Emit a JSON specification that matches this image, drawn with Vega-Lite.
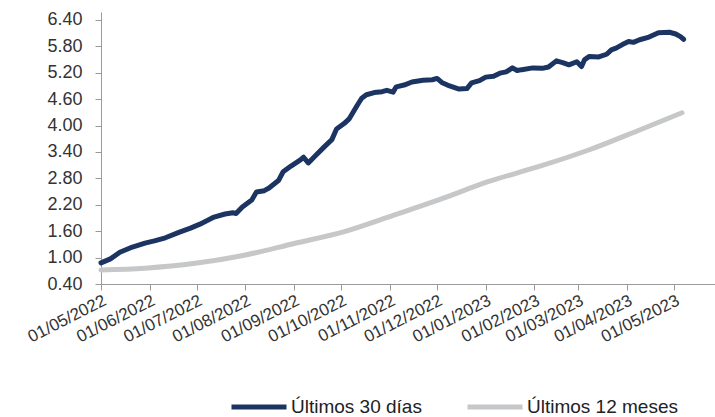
{
  "$schema": "https://vega.github.io/schema/vega-lite/v6.json",
  "width": 614,
  "height": 272,
  "autosize": "none",
  "padding": {"left": 101, "top": 12, "right": 0, "bottom": 133},
  "background": "white",
  "config": {
    "view": {"stroke": null},
    "font": "Liberation Sans",
    "axis": {"grid": false, "domainColor": "#9a9a9a", "tickColor": "#9a9a9a", "labelColor": "#333333", "labelFont": "Liberation Sans", "title": null}
  },
  "data": {"values": [
    {"date": "2022-05-01", "value": 0.88, "serie": "Últimos 30 días"},
    {"date": "2022-05-07", "value": 0.97, "serie": "Últimos 30 días"},
    {"date": "2022-05-13", "value": 1.12, "serie": "Últimos 30 días"},
    {"date": "2022-05-21", "value": 1.24, "serie": "Últimos 30 días"},
    {"date": "2022-05-29", "value": 1.33, "serie": "Últimos 30 días"},
    {"date": "2022-06-04", "value": 1.38, "serie": "Últimos 30 días"},
    {"date": "2022-06-11", "value": 1.45, "serie": "Últimos 30 días"},
    {"date": "2022-06-20", "value": 1.58, "serie": "Últimos 30 días"},
    {"date": "2022-06-27", "value": 1.67, "serie": "Últimos 30 días"},
    {"date": "2022-07-03", "value": 1.76, "serie": "Últimos 30 días"},
    {"date": "2022-07-12", "value": 1.92, "serie": "Últimos 30 días"},
    {"date": "2022-07-19", "value": 1.99, "serie": "Últimos 30 días"},
    {"date": "2022-07-24", "value": 2.02, "serie": "Últimos 30 días"},
    {"date": "2022-07-26", "value": 2.00, "serie": "Últimos 30 días"},
    {"date": "2022-07-30", "value": 2.15, "serie": "Últimos 30 días"},
    {"date": "2022-08-05", "value": 2.31, "serie": "Últimos 30 días"},
    {"date": "2022-08-08", "value": 2.49, "serie": "Últimos 30 días"},
    {"date": "2022-08-13", "value": 2.52, "serie": "Últimos 30 días"},
    {"date": "2022-08-16", "value": 2.58, "serie": "Últimos 30 días"},
    {"date": "2022-08-22", "value": 2.75, "serie": "Últimos 30 días"},
    {"date": "2022-08-25", "value": 2.95, "serie": "Últimos 30 días"},
    {"date": "2022-08-30", "value": 3.08, "serie": "Últimos 30 días"},
    {"date": "2022-09-05", "value": 3.22, "serie": "Últimos 30 días"},
    {"date": "2022-09-07", "value": 3.28, "serie": "Últimos 30 días"},
    {"date": "2022-09-10", "value": 3.15, "serie": "Últimos 30 días"},
    {"date": "2022-09-15", "value": 3.33, "serie": "Últimos 30 días"},
    {"date": "2022-09-20", "value": 3.51, "serie": "Últimos 30 días"},
    {"date": "2022-09-25", "value": 3.68, "serie": "Últimos 30 días"},
    {"date": "2022-09-28", "value": 3.92, "serie": "Últimos 30 días"},
    {"date": "2022-10-03", "value": 4.05, "serie": "Últimos 30 días"},
    {"date": "2022-10-06", "value": 4.15, "serie": "Últimos 30 días"},
    {"date": "2022-10-11", "value": 4.45, "serie": "Últimos 30 días"},
    {"date": "2022-10-14", "value": 4.62, "serie": "Últimos 30 días"},
    {"date": "2022-10-17", "value": 4.70, "serie": "Últimos 30 días"},
    {"date": "2022-10-22", "value": 4.75, "serie": "Últimos 30 días"},
    {"date": "2022-10-27", "value": 4.77, "serie": "Últimos 30 días"},
    {"date": "2022-10-30", "value": 4.80, "serie": "Últimos 30 días"},
    {"date": "2022-11-03", "value": 4.76, "serie": "Últimos 30 días"},
    {"date": "2022-11-05", "value": 4.88, "serie": "Últimos 30 días"},
    {"date": "2022-11-10", "value": 4.92, "serie": "Últimos 30 días"},
    {"date": "2022-11-15", "value": 4.99, "serie": "Últimos 30 días"},
    {"date": "2022-11-22", "value": 5.03, "serie": "Últimos 30 días"},
    {"date": "2022-11-28", "value": 5.04, "serie": "Últimos 30 días"},
    {"date": "2022-12-01", "value": 5.07, "serie": "Últimos 30 días"},
    {"date": "2022-12-04", "value": 4.98, "serie": "Últimos 30 días"},
    {"date": "2022-12-09", "value": 4.90, "serie": "Últimos 30 días"},
    {"date": "2022-12-15", "value": 4.83, "serie": "Últimos 30 días"},
    {"date": "2022-12-20", "value": 4.84, "serie": "Últimos 30 días"},
    {"date": "2022-12-23", "value": 4.97, "serie": "Últimos 30 días"},
    {"date": "2022-12-28", "value": 5.02, "serie": "Últimos 30 días"},
    {"date": "2023-01-01", "value": 5.10, "serie": "Últimos 30 días"},
    {"date": "2023-01-06", "value": 5.12, "serie": "Últimos 30 días"},
    {"date": "2023-01-10", "value": 5.19, "serie": "Últimos 30 días"},
    {"date": "2023-01-14", "value": 5.22, "serie": "Últimos 30 días"},
    {"date": "2023-01-18", "value": 5.31, "serie": "Últimos 30 días"},
    {"date": "2023-01-21", "value": 5.25, "serie": "Últimos 30 días"},
    {"date": "2023-01-24", "value": 5.27, "serie": "Últimos 30 días"},
    {"date": "2023-01-31", "value": 5.31, "serie": "Últimos 30 días"},
    {"date": "2023-02-06", "value": 5.30, "serie": "Últimos 30 días"},
    {"date": "2023-02-10", "value": 5.33, "serie": "Últimos 30 días"},
    {"date": "2023-02-15", "value": 5.47, "serie": "Últimos 30 días"},
    {"date": "2023-02-19", "value": 5.43, "serie": "Últimos 30 días"},
    {"date": "2023-02-23", "value": 5.38, "serie": "Últimos 30 días"},
    {"date": "2023-02-28", "value": 5.45, "serie": "Últimos 30 días"},
    {"date": "2023-03-03", "value": 5.34, "serie": "Últimos 30 días"},
    {"date": "2023-03-05", "value": 5.50, "serie": "Últimos 30 días"},
    {"date": "2023-03-08", "value": 5.57, "serie": "Últimos 30 días"},
    {"date": "2023-03-14", "value": 5.56, "serie": "Últimos 30 días"},
    {"date": "2023-03-19", "value": 5.62, "serie": "Últimos 30 días"},
    {"date": "2023-03-22", "value": 5.72, "serie": "Últimos 30 días"},
    {"date": "2023-03-25", "value": 5.76, "serie": "Últimos 30 días"},
    {"date": "2023-03-29", "value": 5.84, "serie": "Últimos 30 días"},
    {"date": "2023-04-02", "value": 5.91, "serie": "Últimos 30 días"},
    {"date": "2023-04-05", "value": 5.89, "serie": "Últimos 30 días"},
    {"date": "2023-04-09", "value": 5.95, "serie": "Últimos 30 días"},
    {"date": "2023-04-15", "value": 6.01, "serie": "Últimos 30 días"},
    {"date": "2023-04-21", "value": 6.11, "serie": "Últimos 30 días"},
    {"date": "2023-04-28", "value": 6.12, "serie": "Últimos 30 días"},
    {"date": "2023-05-02", "value": 6.08, "serie": "Últimos 30 días"},
    {"date": "2023-05-05", "value": 6.02, "serie": "Últimos 30 días"},
    {"date": "2023-05-07", "value": 5.96, "serie": "Últimos 30 días"},
    {"date": "2022-05-01", "value": 0.72, "serie": "Últimos 12 meses"},
    {"date": "2022-05-29", "value": 0.76, "serie": "Últimos 12 meses"},
    {"date": "2022-06-30", "value": 0.87, "serie": "Últimos 12 meses"},
    {"date": "2022-08-01", "value": 1.06, "serie": "Últimos 12 meses"},
    {"date": "2022-09-01", "value": 1.32, "serie": "Últimos 12 meses"},
    {"date": "2022-10-03", "value": 1.59, "serie": "Últimos 12 meses"},
    {"date": "2022-11-04", "value": 1.97, "serie": "Últimos 12 meses"},
    {"date": "2022-12-02", "value": 2.31, "serie": "Últimos 12 meses"},
    {"date": "2023-01-03", "value": 2.73, "serie": "Últimos 12 meses"},
    {"date": "2023-02-04", "value": 3.07, "serie": "Últimos 12 meses"},
    {"date": "2023-03-08", "value": 3.45, "serie": "Últimos 12 meses"},
    {"date": "2023-04-09", "value": 3.90, "serie": "Últimos 12 meses"},
    {"date": "2023-05-06", "value": 4.29, "serie": "Últimos 12 meses"}
  ]},
  "encoding": {
    "x": {
      "field": "date", "type": "temporal",
      "scale": {"type": "utc", "domain": [{"year": 2022, "month": 5, "date": 1, "utc": true}, {"year": 2023, "month": 5, "date": 27, "utc": true}]},
      "axis": {
        "values": [
          {"year": 2022, "month": 5, "date": 1, "utc": true},
          {"year": 2022, "month": 6, "date": 1, "utc": true},
          {"year": 2022, "month": 7, "date": 1, "utc": true},
          {"year": 2022, "month": 8, "date": 1, "utc": true},
          {"year": 2022, "month": 9, "date": 1, "utc": true},
          {"year": 2022, "month": 10, "date": 1, "utc": true},
          {"year": 2022, "month": 11, "date": 1, "utc": true},
          {"year": 2022, "month": 12, "date": 1, "utc": true},
          {"year": 2023, "month": 1, "date": 1, "utc": true},
          {"year": 2023, "month": 2, "date": 1, "utc": true},
          {"year": 2023, "month": 3, "date": 1, "utc": true},
          {"year": 2023, "month": 4, "date": 1, "utc": true},
          {"year": 2023, "month": 5, "date": 1, "utc": true}
        ],
        "labelExpr": "utcFormat(datum.value, '%d/%m/%Y')",
        "labelAngle": -27, "labelAlign": "right", "labelBaseline": "top",
        "labelFontSize": 17, "labelPadding": 2, "tickSize": 6, "labelOverlap": false, "labelBound": false, "labelFlush": false
      }
    },
    "y": {
      "field": "value", "type": "quantitative",
      "scale": {"domain": [0.4, 6.58], "nice": false, "zero": false},
      "axis": {"values": [0.4, 1.0, 1.6, 2.2, 2.8, 3.4, 4.0, 4.6, 5.2, 5.8, 6.4], "format": ".2f", "labelFontSize": 18, "labelPadding": 13, "tickSize": 6}
    },
    "color": {
      "field": "serie", "type": "nominal",
      "scale": {"domain": ["Últimos 30 días", "Últimos 12 meses"], "range": ["#1b3461", "#c5c7c9"]},
      "legend": {
        "title": null, "orient": "none", "legendX": 128, "legendY": 365, "direction": "horizontal",
        "symbolType": "stroke", "symbolSize": 3025, "symbolStrokeWidth": 5,
        "labelFontSize": 19, "labelColor": "#222222", "labelOffset": 2, "columnPadding": 35, "padding": 0
      }
    }
  },
  "layer": [
    {"transform": [{"filter": "datum.serie === 'Últimos 12 meses'"}], "mark": {"type": "line", "strokeWidth": 5, "interpolate": "monotone", "strokeCap": "round"}},
    {"transform": [{"filter": "datum.serie === 'Últimos 30 días'"}], "mark": {"type": "line", "strokeWidth": 5, "strokeCap": "round", "strokeJoin": "round"}}
  ]
}
